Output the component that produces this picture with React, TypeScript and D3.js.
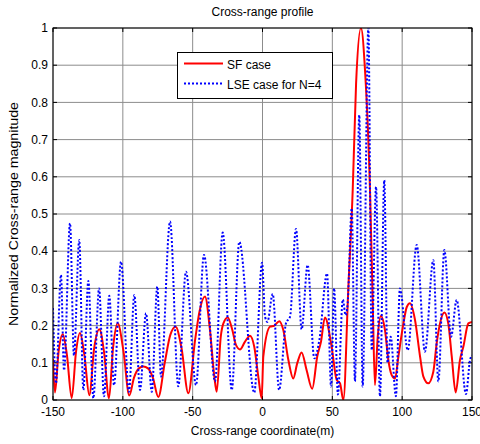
import React from "react";
import * as d3 from "d3";

const sfX = [-150, -148.6, -146, -143, -140, -136.6, -133.5, -130.7, -127.5, -124, -120.5, -116.8, -113.5, -109.9, -107, -103.7, -99.5, -95.4, -92, -88.5, -85.3, -82, -78.5, -74.6, -70, -66, -62.2, -58, -53.1, -48.3, -45, -41.2, -37.6, -34.5, -32.8, -29.9, -28, -24.9, -21.6, -19, -16.1, -12.5, -8.95, -5.9, -3, -0.6, 0.6, 5.4, 8.5, 12, 14.9, 18.5, 22, 24.9, 28, 31.6, 35.6, 39.2, 41.9, 44.7, 49.5, 53.1, 55.5, 57.9, 61.4, 64.6, 67, 70.5, 73.5, 77, 79, 80.5, 82.5, 84.8, 87.7, 90.1, 92.5, 94.9, 97.3, 100.9, 103.3, 105.6, 109.2, 112.8, 115.2, 118.7, 122.3, 124.7, 127.1, 130.2, 133, 135.5, 138.3, 141.4, 143.8, 147.4, 150];
const sfY = [0.11, 0.02, 0.13, 0.177, 0.12, 0.005, 0.13, 0.18, 0.12, 0.013, 0.14, 0.19, 0.13, 0.005, 0.14, 0.206, 0.13, 0.012, 0.06, 0.085, 0.09, 0.085, 0.06, 0.008, 0.1, 0.175, 0.197, 0.14, 0.018, 0.16, 0.24, 0.278, 0.188, 0.063, 0.022, 0.17, 0.206, 0.222, 0.188, 0.148, 0.136, 0.157, 0.173, 0.143, 0.063, 0.005, 0.117, 0.197, 0.2, 0.212, 0.188, 0.108, 0.058, 0.099, 0.128, 0.08, 0.03, 0.117, 0.157, 0.222, 0.143, 0.054, 0.045, 0.0, 0.296, 0.565, 0.85, 1.0, 0.88, 0.56, 0.25, 0.04, 0.17, 0.226, 0.188, 0.108, 0.067, 0.058, 0.117, 0.206, 0.25, 0.26, 0.215, 0.117, 0.063, 0.045, 0.076, 0.152, 0.206, 0.235, 0.206, 0.117, 0.02, 0.108, 0.143, 0.206, 0.21];

const lseX = [-150, -147.9, -144.3, -142.1, -137.8, -135, -131.2, -128.3, -124.7, -121.1, -117, -113.5, -109.7, -106.3, -101.3, -95.6, -91.8, -87.7, -83.4, -79.3, -75.3, -72.7, -66.2, -60.3, -54.8, -47.6, -41.9, -34, -28.5, -22, -16.6, -5.9, -0.3, 1.8, 3.5, 7.3, 11.9, 16.8, 19.7, 24, 28, 32.3, 37.1, 40.7, 46.2, 49.1, 51.3, 54.0, 57.5, 59.5, 61, 63.9, 66.2, 69.3, 71.7, 75.8, 78.2, 81.3, 84.1, 87.2, 89.5, 91.8, 95.5, 98.4, 104, 110.4, 116.3, 122.3, 125.9, 130.2, 135, 139, 145.7, 148.6, 150];
const lseY = [0.247, 0.045, 0.336, 0.08, 0.475, 0.12, 0.43, 0.027, 0.32, 0.005, 0.3, 0.01, 0.28, 0.04, 0.372, 0.022, 0.282, 0.027, 0.233, 0.022, 0.305, 0.063, 0.48, 0.037, 0.345, 0.04, 0.39, 0.05, 0.45, 0.027, 0.425, 0.02, 0.369, 0.224, 0.21, 0.285, 0.027, 0.206, 0.224, 0.46, 0.19, 0.363, 0.112, 0.161, 0.34, 0.036, 0.3, 0.015, 0.27, 0.228, 0.26, 0.515, 0.05, 0.766, 0.036, 1.0, 0.134, 0.573, 0.01, 0.591, 0.1, 0.17, 0.01, 0.3, 0.134, 0.417, 0.13, 0.376, 0.05, 0.403, 0.17, 0.269, 0.016, 0.108, 0.12];

const xTicks = [-150, -100, -50, 0, 50, 100, 150];
const xTickLabels = ["-150", "-100", "-50", "0", "50", "100", "150"];
const yTicks = [0, 0.1, 0.2, 0.3, 0.4, 0.5, 0.6, 0.7, 0.8, 0.9, 1];
const yTickLabels = ["0", "0.1", "0.2", "0.3", "0.4", "0.5", "0.6", "0.7", "0.8", "0.9", "1"];
const seriesNames = ["SF case", "LSE case for N=4"];

export default function App() {
  const W = 480, H = 444;
  const L = 53, R = 472, T = 28, B = 400;
  const x = d3.scaleLinear().domain([-150, 150]).range([L, R]);
  const y = d3.scaleLinear().domain([0, 1]).range([B, T]);
  const line = d3
    .line<[number, number]>()
    .x((d) => x(d[0]))
    .y((d) => y(d[1]))
    .curve(d3.curveMonotoneX);
  const sf = sfX.map((v, i) => [v, sfY[i]] as [number, number]);
  const lse = lseX.map((v, i) => [v, lseY[i]] as [number, number]);
  const font = "'Liberation Sans', Arial, sans-serif";
  const grid = "#8c8c8c";
  const tl = 4;
  return (
    <svg
      width={W}
      height={H}
      style={{ position: "absolute", left: 0, top: 0, background: "#fff" }}
      fontFamily={font}
    >
      <rect x={0} y={0} width={W} height={H} fill="#fff" />
      <defs>
        <clipPath id="plotclip">
          <rect x={L} y={T} width={R - L} height={B - T} />
        </clipPath>
      </defs>
      <rect x={L} y={T} width={R - L} height={B - T} fill="#fff" />
      {xTicks.map((t) => (
        <line key={"gx" + t} x1={x(t)} x2={x(t)} y1={T} y2={B} stroke={grid} strokeWidth={1} />
      ))}
      {yTicks.map((t) => (
        <line key={"gy" + t} x1={L} x2={R} y1={y(t)} y2={y(t)} stroke={grid} strokeWidth={1} />
      ))}
      {xTicks.map((t) => (
        <g key={"tx" + t}>
          <line x1={x(t)} x2={x(t)} y1={B} y2={B - tl} stroke="#000" />
          <line x1={x(t)} x2={x(t)} y1={T} y2={T + tl} stroke="#000" />
        </g>
      ))}
      {yTicks.map((t) => (
        <g key={"ty" + t}>
          <line x1={L} x2={L + tl} y1={y(t)} y2={y(t)} stroke="#000" />
          <line x1={R} x2={R - tl} y1={y(t)} y2={y(t)} stroke="#000" />
        </g>
      ))}
      <g clipPath="url(#plotclip)">
        <path d={line(sf) || ""} fill="none" stroke="#ff0000" strokeWidth={2} strokeLinejoin="round" />
        <path d={line(lse) || ""} fill="none" stroke="#0000ff" strokeWidth={2} strokeDasharray="2,2" />
      </g>
      <rect x={L} y={T} width={R - L} height={B - T} fill="none" stroke="#000" strokeWidth={1} />
      {xTicks.map((t, i) => (
        <text key={"lx" + t} x={x(t)} y={416} fontSize={12} textAnchor="middle" fill="#000">
          {xTickLabels[i]}
        </text>
      ))}
      {yTicks.map((t, i) => (
        <text key={"ly" + t} x={48} y={y(t)} dy="0.35em" fontSize={12} textAnchor="end" fill="#000">
          {yTickLabels[i]}
        </text>
      ))}
      <text x={(L + R) / 2} y={15.5} fontSize={12} textAnchor="middle" fill="#000">
        Cross-range profile
      </text>
      <text x={(L + R) / 2} y={435} fontSize={12} textAnchor="middle" fill="#000">
        Cross-range coordinate(m)
      </text>
      <text
        transform={`translate(18,${(T + B) / 2}) rotate(-90)`}
        fontSize={12.5}
        textAnchor="middle"
        textLength={224}
        lengthAdjust="spacingAndGlyphs"
        fill="#000"
      >
        Normalized Cross-range magnitude
      </text>
      <g>
        <rect x={177.5} y={52.5} width={155} height={46} fill="#fff" stroke="#000" strokeWidth={1} />
        <line x1={184} x2={223} y1={63.5} y2={63.5} stroke="#ff0000" strokeWidth={2} />
        <text x={227} y={69} fontSize={12} fill="#000">{seriesNames[0]}</text>
        <line x1={184} x2={223} y1={83.5} y2={83.5} stroke="#0000ff" strokeWidth={2} strokeDasharray="2,2" />
        <text x={227} y={89} fontSize={12} fill="#000">{seriesNames[1]}</text>
      </g>
    </svg>
  );
}
